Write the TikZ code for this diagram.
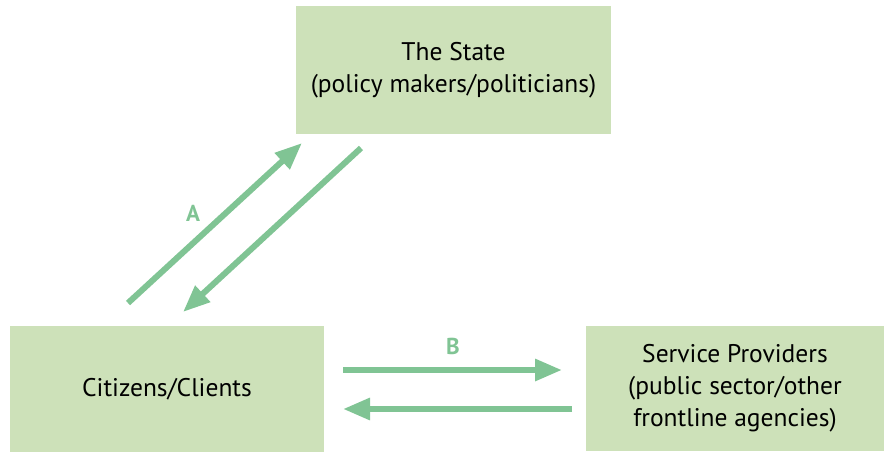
\documentclass[tikz,border=0pt]{standalone}
\usepackage{fontspec}
\setmainfont{PT Sans}
\usetikzlibrary{arrows.meta}
\definecolor{boxfill}{HTML}{CDE1B9}
\definecolor{arrowgreen}{HTML}{80C494}
\tikzset{
  box/.style={fill=boxfill, draw=none, inner sep=0pt, align=center, font=\fontsize{25.5}{32}\selectfont},
  flow/.style={draw=arrowgreen, line width=6pt, -{Triangle[length=27pt,width=21pt]}},
  lbl/.style={text=arrowgreen, font=\fontsize{23}{26}\selectfont\bfseries}
}
\begin{document}
\begin{tikzpicture}[x=1pt,y=-1pt]
\useasboundingbox (0,0) rectangle (887,452);
\node[box, minimum width=315pt, minimum height=128pt] (state) at (453.5,70) {The State\\(policy makers/politicians)};
\node[box, minimum width=314pt, minimum height=126pt] (citizens) at (167,389) {Citizens/Clients};
\node[box, minimum width=298pt, minimum height=125pt] (service) at (735,388.5) {Service Providers\\(public sector/other\\frontline agencies)};
\coordinate (a1s) at (128,303);
\coordinate (a1e) at (302,143);
\coordinate (a2s) at (361,148);
\coordinate (a2e) at (183,312);
\coordinate (b1s) at (343,370);
\coordinate (b1e) at (562,370);
\coordinate (b2s) at (572,409);
\coordinate (b2e) at (343,409);
\draw[flow] (a1s) -- (a1e);
\draw[flow] (a2s) -- (a2e);
\draw[flow] (b1s) -- (b1e);
\draw[flow] (b2s) -- (b2e);
\node[lbl] (la) at (193,213) {A};
\node[lbl] (lb) at (453,346) {B};
\end{tikzpicture}
\end{document}
